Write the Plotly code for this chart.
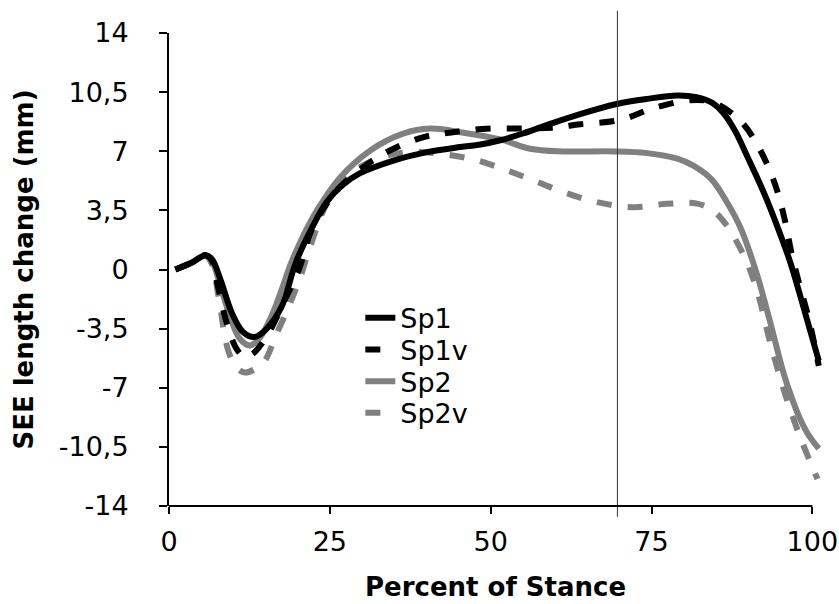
import plotly.graph_objects as go

# ---- data ----
sp1_x = [1, 3.5, 5.7, 6.7, 8, 9.8, 11.5, 13.3, 15.2, 17.5, 19.7, 22, 24.5, 27, 29.7,
         34.9, 40.1, 45.3, 48.4, 51.5, 55, 58.7, 63.9, 69.6, 74.3, 79, 82, 84.5,
         86.2, 88, 90, 92.4, 94.5, 96.5, 98.6, 101]
sp1_y = [0, 0.4, 0.85, 0.6, -0.6, -2.6, -3.7, -4.0, -3.5, -2.2, 0.4, 2.3, 4.0, 5.0, 5.7,
         6.45, 6.95, 7.25, 7.4, 7.65, 8.05, 8.55, 9.2, 9.8, 10.1, 10.3, 10.2, 9.85,
         9.25, 8.2, 6.6, 4.6, 2.6, 0.5, -2.2, -5.4]

sp1v_x = [1, 3.5, 5.7, 6.7, 7.6, 9, 10.5, 11.8, 13, 14.2, 16, 18, 20.2, 22, 24, 26.6,
          30.7, 34.9, 39.6, 44.2, 49.4, 55, 60, 63.9, 70.1, 75.3, 80.5, 83.5, 85.7,
          87.5, 89.3, 91.2, 93, 94.5, 95.8, 96.8, 98, 99.5, 101]
sp1v_y = [0, 0.4, 0.85, 0.5, -1.0, -3.2, -4.7, -5.2, -5.0, -4.5, -3.4, -1.8, 0.0, 2.2, 3.6, 4.9,
          6.2, 7.15, 7.84, 8.13, 8.33, 8.35, 8.4, 8.6, 8.85, 9.55, 10.0, 10.0, 9.7,
          9.25, 8.6, 7.55, 6.2, 4.7, 2.8, 0.9, -0.9, -3.0, -5.7]

sp2_x = [1, 3.5, 5.7, 6.7, 8, 9.5, 11, 12.6, 14.2, 16, 17.5, 19, 21, 23, 26.6, 31.3, 36.4,
         40.6, 45.3, 51.5, 56.1, 61.3, 69.1, 74.3, 79, 81.5, 84.3, 86.7, 88.8, 91.4,
         93.5, 95.5, 96.8, 98.1, 99.5, 101]
sp2_y = [0, 0.4, 0.85, 0.5, -1.0, -2.8, -4.1, -4.5, -4.0, -2.7, -1.2, 0.4, 2.1, 3.5, 5.45, 7.05, 8.04,
         8.34, 8.13, 7.7, 7.15, 6.99, 6.99, 6.89, 6.56, 6.15, 5.35, 4.0, 2.5, -0.3,
         -3.2, -6.1, -7.6, -8.85, -9.85, -10.6]

sp2v_x = [1, 3.5, 5.7, 6.7, 7.7, 9.2, 10.5, 11.8, 13.3, 14.9, 16.5, 18.6, 20.4, 21.9, 24.5,
          27, 29.7, 33.5, 38, 43.2, 47.9, 52.5, 56.7, 61.3, 66.5, 72.2, 77.4, 82.1, 84.5,
          86.7, 89.5, 91.4, 93.5, 96.1, 98.4, 100.8]
sp2v_y = [0, 0.4, 0.8, 0.3, -1.6, -4.8, -5.8, -6.1, -5.9, -5.4, -4.0, -2.2, -0.46, 1.3, 3.9,
          5.2, 6.06, 6.7, 6.95, 6.8, 6.46, 5.87, 5.27, 4.58, 3.99, 3.69, 3.89, 3.9, 3.5,
          2.6, 0.7, -1.24, -4.4, -7.76, -10.2, -12.4]

stance_marker = [69.7]

x_ticks = [0, 25, 50, 75, 100]
x_tick_text = ["0", "25", "50", "75", "100"]
y_ticks = [-14, -10.5, -7, -3.5, 0, 3.5, 7, 10.5, 14]
y_tick_text = ["-14", "-10,5", "-7", "-3,5", "0", "3,5", "7", "10,5", "14"]

series = [
    ("Sp1", sp1_x, sp1_y, "black", "solid", "legend"),
    ("Sp1v", sp1v_x, sp1v_y, "black", "15px,16px", "legend2"),
    ("Sp2", sp2_x, sp2_y, "#808080", "solid", "legend3"),
    ("Sp2v", sp2v_x, sp2v_y, "#808080", "15px,16px", "legend4"),
]

FONT = "DejaVu Sans, Verdana, sans-serif"

fig = go.Figure()
for name, xs, ys, col, dash, leg in reversed(series):
    fig.add_trace(go.Scatter(
        x=xs, y=ys, name=name, mode="lines",
        line=dict(color=col, width=6, dash=dash, shape="spline", smoothing=1),
        legend=leg,
    ))

for xv in stance_marker:
    fig.add_shape(type="line", xref="x", yref="paper", x0=xv, x1=xv, y0=-0.023, y1=1.047,
                  line=dict(color="#333333", width=1))

# x-axis baseline from 0 to 100
fig.add_shape(type="line", xref="x", yref="paper", x0=x_ticks[0], x1=x_ticks[-1], y0=0, y1=0,
              line=dict(color="black", width=2))

leg_common = dict(x=0.293, xanchor="left", yanchor="middle",
                  bgcolor="rgba(0,0,0,0)", font=dict(size=27))
leg_rows = [0.397, 0.330, 0.263, 0.196]

fig.update_layout(
    width=839, height=604,
    margin=dict(l=169, r=17, t=33, b=98),
    paper_bgcolor="white", plot_bgcolor="white",
    font=dict(family=FONT, size=27, color="black"),
    showlegend=True,
    legend=dict(y=leg_rows[0], **leg_common),
    legend2=dict(y=leg_rows[1], **leg_common),
    legend3=dict(y=leg_rows[2], **leg_common),
    legend4=dict(y=leg_rows[3], **leg_common),
    xaxis=dict(range=[0, 101.5], tickvals=x_ticks, ticktext=x_tick_text,
               showgrid=False, zeroline=False, showline=False, automargin=False,
               ticks="outside", ticklen=7, tickwidth=2, tickcolor="black",
               ticklabelstandoff=5,
               title=dict(text="<b>Percent of Stance</b>", standoff=21,
                          font=dict(size=26))),
    yaxis=dict(range=[-14, 14], tickvals=y_ticks, ticktext=y_tick_text,
               showgrid=False, zeroline=False, showline=True, linewidth=2, linecolor="black",
               automargin=False,
               ticks="outside", ticklen=8, tickwidth=2, tickcolor="black",
               ticklabelstandoff=25,
               title=dict(text="<b>SEE length change (mm)</b>", standoff=18,
                          font=dict(size=26))),
)

fig.write_html("out.html")
